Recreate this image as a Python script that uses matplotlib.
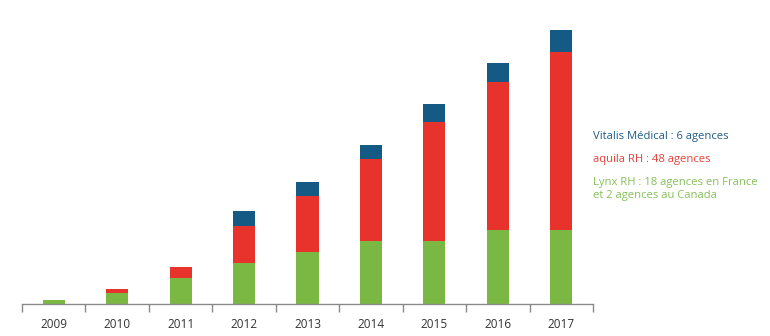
import matplotlib
matplotlib.use("Agg")
import matplotlib.pyplot as plt
import numpy as np

years = ["2009", "2010", "2011", "2012", "2013", "2014", "2015", "2016", "2017"]
lynx = [1, 3, 7, 11, 14, 17, 17, 20, 20]
aquila = [0, 1, 3, 10, 15, 22, 32, 40, 48]
vitalis = [0, 0, 0, 4, 4, 4, 5, 5, 6]

legend_texts = [
    "Vitalis Médical : 6 agences",
    "aquila RH : 48 agences",
    "Lynx RH : 18 agences en France\net 2 agences au Canada",
]
legend_colors = ["#1f5d85", "#e5413a", "#86c05a"]

c_green = "#7ab843"
c_red = "#e8332c"
c_blue = "#145a85"

plt.rcParams["font.family"] = ["Open Sans", "DejaVu Sans"]

fig = plt.figure(figsize=(7.7, 3.36), dpi=100)
ax = fig.add_axes([22 / 770, 32 / 336, (593 - 22) / 770, (304 - 20) / 336])

x = np.arange(len(years))
w = 0.35
lynx_a = np.array(lynx)
aquila_a = np.array(aquila)
vitalis_a = np.array(vitalis)
ax.bar(x, lynx_a, w, color=c_green, linewidth=0)
ax.bar(x, aquila_a, w, bottom=lynx_a, color=c_red, linewidth=0)
ax.bar(x, vitalis_a, w, bottom=lynx_a + aquila_a, color=c_blue, linewidth=0)

ax.set_xlim(-0.5, len(years) - 0.5)
ax.set_ylim(0, 76.6)

for s in ["top", "right", "left"]:
    ax.spines[s].set_visible(False)
ax.spines["bottom"].set_color("#8a8a8a")
ax.spines["bottom"].set_linewidth(1.0)
ax.set_yticks([])

# boundary ticks between categories, year labels centred under the bars
ax.set_xticks(np.arange(-0.5, len(years), 1.0))
ax.set_xticklabels([])
ax.tick_params(axis="x", which="major", length=6, width=1.0, color="#8a8a8a", direction="out")
ax.set_xticks(x, minor=True)
ax.set_xticklabels(years, minor=True, fontsize=8.5, color="#333333")
ax.tick_params(axis="x", which="minor", length=0, pad=10)

# series annotations on the right
fig.text(593 / 770, 1 - 136 / 336, legend_texts[0], color=legend_colors[0],
         fontsize=8.1, ha="left", va="center")
fig.text(593 / 770, 1 - 159.5 / 336, legend_texts[1], color=legend_colors[1],
         fontsize=8.1, ha="left", va="center")
fig.text(593 / 770, 1 - 177 / 336, legend_texts[2], color=legend_colors[2],
         fontsize=8.1, ha="left", va="top", linespacing=1.3)

fig.savefig("out.png", dpi=100, facecolor="white")
